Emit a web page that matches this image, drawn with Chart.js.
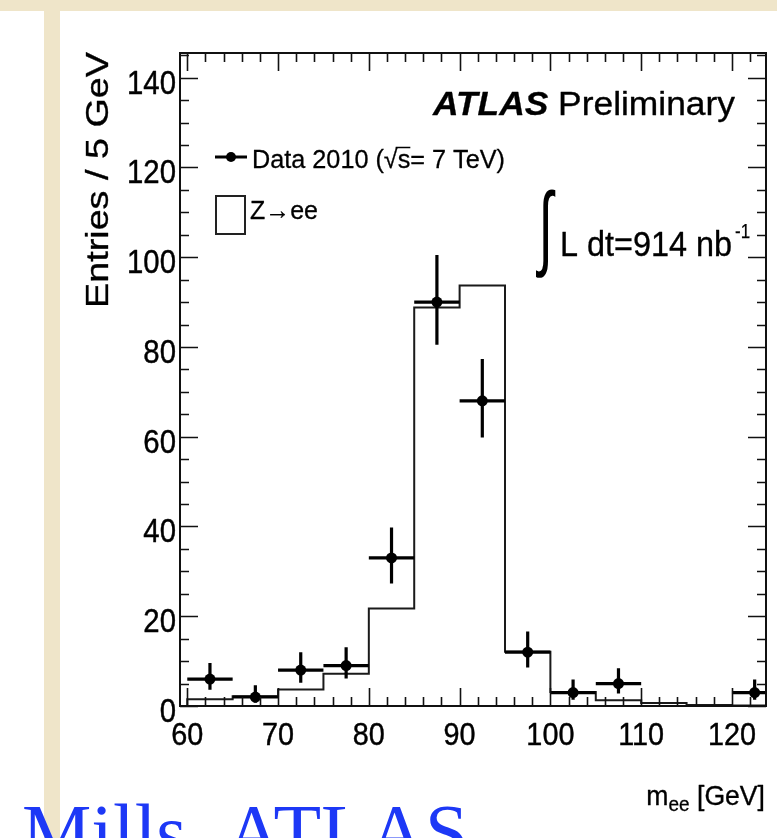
<!DOCTYPE html>
<html>
<head>
<meta charset="utf-8">
<script src="https://cdn.jsdelivr.net/npm/chart.js@4.4.1/dist/chart.umd.min.js"></script>
<style>
  html, body { margin: 0; padding: 0; width: 777px; height: 838px; overflow: hidden; background: #efe5c9; }
  #paperLeft { position: absolute; left: 0; top: 11px; width: 44px; height: 827px; background: #ffffff; }
  #paperMain { position: absolute; left: 60px; top: 11px; width: 717px; height: 827px; background: #ffffff; }
  canvas { position: absolute; left: 0; top: 0; }
</style>
</head>
<body>
<div id="paperLeft"></div>
<div id="paperMain"></div>
<canvas id="mee" width="777" height="838"></canvas>
<script>
// Di-electron invariant mass, 5 GeV bins
const binEdges   = [60, 65, 70, 75, 80, 85, 90, 95, 100, 105, 110, 115, 120, 125];
const mcZee      = [1.5, 2.2, 3.7, 7.2, 21.7, 88.8, 93.7, 12.1, 3.1, 1.3, 0.65, 0.2, 0.1];
const binCenters = [62.5, 67.5, 72.5, 77.5, 82.5, 87.5, 92.5, 97.5, 102.5, 107.5, 112.5, 117.5, 122.5];
const dataCounts = [6, 2, 8, 9, 33, 90, 68, 12, 3, 5, 0, 0, 3];
const dataLow    = [3.6, 0.7, 5.2, 6.1, 27.3, 80.5, 59.8, 8.6, 1.4, 2.8, 0, 0, 1.4];
const dataHigh   = [9.6, 4.6, 12.0, 13.1, 39.8, 100.5, 77.3, 16.6, 5.9, 8.4, 0, 0, 5.9];
const xTickValues = [60, 70, 80, 90, 100, 110, 120];
const yTickValues = [0, 20, 40, 60, 80, 100, 120, 140];

const SANS = '"Liberation Sans", Arial, Helvetica, sans-serif';
const SERIF = '"Liberation Serif", "Times New Roman", serif';

// MC histogram outline as a step line over the bin edges
const mcPoints = [{ x: binEdges[0], y: 0 }];
mcZee.forEach((v, i) => mcPoints.push({ x: binEdges[i], y: v }));
mcPoints.push({ x: binEdges[binEdges.length - 1], y: mcZee[mcZee.length - 1] });

// Data error bars: bin-width horizontal bars and Poisson vertical bars, separated by gaps
const hBars = [], vBars = [], markers = [];
dataCounts.forEach((n, i) => {
  if (n <= 0) return;
  hBars.push({ x: binEdges[i], y: n }, { x: binEdges[i + 1], y: n }, { x: binEdges[i + 1], y: null });
  vBars.push({ x: binCenters[i], y: dataLow[i] }, { x: binCenters[i], y: dataHigh[i] }, { x: binCenters[i], y: null });
  markers.push({ x: binCenters[i], y: n });
});

// text drawn with a horizontal squeeze factor and a faint outline for weight
function drawScaled(ctx, text, font, x, y, sx, align, weight) {
  ctx.save();
  ctx.font = font;
  ctx.textBaseline = 'alphabetic';
  ctx.textAlign = 'left';
  const w = ctx.measureText(text).width * sx;
  let x0 = x;
  if (align === 'right') x0 = x - w;
  else if (align === 'center') x0 = x - w / 2;
  ctx.translate(x0, y);
  ctx.scale(sx, 1);
  ctx.fillText(text, 0, 0);
  if (weight) {
    ctx.strokeStyle = ctx.fillStyle;
    ctx.lineWidth = weight;
    ctx.lineJoin = 'round';
    ctx.strokeText(text, 0, 0);
  }
  ctx.restore();
  return w;
}
function widthOf(ctx, text, font) { ctx.save(); ctx.font = font; const w = ctx.measureText(text).width; ctx.restore(); return w; }

// ROOT-style frame: box with inward ticks on all four sides
const framePlugin = {
  id: 'frame',
  afterDatasetsDraw(chart) {
    const { ctx, chartArea: a, scales: { x, y } } = chart;
    ctx.save();
    ctx.strokeStyle = '#111';
    ctx.lineWidth = 2;
    ctx.strokeRect(a.left, a.top, a.right - a.left, a.bottom - a.top);
    ctx.beginPath();
    for (let v = 60; v <= x.max; v += 2) {
      const px = Math.round(x.getPixelForValue(v)) + 0.5;
      const len = xTickValues.includes(v) ? 18 : 9;
      ctx.moveTo(px, a.bottom); ctx.lineTo(px, a.bottom - len);
      ctx.moveTo(px, a.top); ctx.lineTo(px, a.top + len);
    }
    for (let v = 0; v <= y.max; v += 5) {
      const py = Math.round(y.getPixelForValue(v)) + 0.5;
      const len = yTickValues.includes(v) ? 18 : 9;
      ctx.moveTo(a.left, py); ctx.lineTo(a.left + len, py);
      ctx.moveTo(a.right, py); ctx.lineTo(a.right - len, py);
    }
    ctx.lineWidth = 1.6;
    ctx.stroke();
    ctx.restore();
  },
  afterDraw(chart) {
    const { ctx, scales: { x, y } } = chart;
    ctx.save();
    ctx.fillStyle = '#000';
    // tick labels
    x.ticks.forEach(t => drawScaled(ctx, String(t.value), '32px ' + SANS, x.getPixelForValue(t.value), 745, 0.9, 'center', 0.45));
    y.ticks.forEach(t => drawScaled(ctx, String(t.value), '33px ' + SANS, 176, y.getPixelForValue(t.value) + 16, 0.89, 'right', 0.45));

    // y title, rotated
    ctx.save();
    ctx.translate(108, 308);
    ctx.rotate(-Math.PI / 2);
    const yt = 'Entries / 5 GeV';
    const ytw = widthOf(ctx, yt, '32px ' + SANS);
    drawScaled(ctx, yt, '32px ' + SANS, 0, 0, 256 / ytw, 'left', 0.35);
    ctx.restore();

    // x title: m_ee [GeV]
    const fBig = '28px ' + SANS, fSub = '20px ' + SANS;
    const sxT = 0.95;
    const wM = widthOf(ctx, 'm', fBig) * sxT, wSub = widthOf(ctx, 'ee', fSub) * sxT, wRest = widthOf(ctx, ' [GeV]', fBig) * sxT;
    let xl = 765 - (wM + wSub + wRest);
    drawScaled(ctx, 'm', fBig, xl, 805, sxT, 'left', 0.35); xl += wM;
    drawScaled(ctx, 'ee', fSub, xl, 811, sxT, 'left', 0.3); xl += wSub;
    drawScaled(ctx, ' [GeV]', fBig, xl, 805, sxT, 'left', 0.35);

    // ATLAS Preliminary
    const fA = 'italic bold 33px ' + SANS, fP = '33px ' + SANS;
    const wA = widthOf(ctx, 'ATLAS', fA), wP = widthOf(ctx, ' Preliminary', fP);
    const sA = 302 / (wA + wP);
    drawScaled(ctx, 'ATLAS', fA, 735 - (wA + wP) * sA, 115, sA, 'left', 0.3);
    drawScaled(ctx, ' Preliminary', fP, 735, 115, sA, 'right', 0.35);

    // legend: data entry
    ctx.strokeStyle = '#000';
    ctx.lineWidth = 3;
    ctx.beginPath(); ctx.moveTo(215, 157); ctx.lineTo(247, 157); ctx.stroke();
    ctx.beginPath(); ctx.arc(231, 157, 5, 0, Math.PI * 2); ctx.fill();
    const fL = '26px ' + SANS;
    const dTxt = 'Data 2010 (√s= 7 TeV)';
    const sL = 253 / widthOf(ctx, dTxt, fL);
    drawScaled(ctx, dTxt, fL, 252, 168, sL, 'left', 0.3);
    const pre = widthOf(ctx, 'Data 2010 (√', fL) * sL, sW = widthOf(ctx, 's', fL) * sL;
    ctx.lineWidth = 1.5;
    ctx.beginPath(); ctx.moveTo(252 + pre - 2, 147.5); ctx.lineTo(252 + pre + sW, 147.5); ctx.stroke();

    // legend: MC entry
    ctx.strokeStyle = '#222';
    ctx.lineWidth = 2;
    ctx.strokeRect(216, 196, 29, 38);
    const zTxt = 'Z→ee';
    drawScaled(ctx, zTxt, '26px ' + SANS, 250, 219, 68 / widthOf(ctx, zTxt, '26px ' + SANS), 'left', 0.3);

    // integrated luminosity
    ctx.save();
    ctx.font = '60px ' + SANS;
    const im = ctx.measureText('∫');
    const ih = im.actualBoundingBoxAscent + im.actualBoundingBoxDescent;
    const iw = im.actualBoundingBoxLeft + im.actualBoundingBoxRight;
    ctx.translate(536, 188);
    ctx.scale(20 / iw, 90 / ih);
    ctx.textBaseline = 'alphabetic';
    ctx.fillText('∫', im.actualBoundingBoxLeft, im.actualBoundingBoxAscent);
    ctx.restore();
    const lTxt = 'L dt=914 nb';
    const fLum = '35px ' + SANS;
    drawScaled(ctx, lTxt, fLum, 560, 256, 172 / widthOf(ctx, lTxt, fLum), 'left', 0.35);
    drawScaled(ctx, '-1', '20px ' + SANS, 735, 238, 0.85, 'left', 0.25);

    // speaker credit
    ctx.fillStyle = '#1d38f6';
    drawScaled(ctx, 'Mills, ATLAS', '78px ' + SERIF, 22, 858, 1, 'left');
    ctx.restore();
  }
};

new Chart(document.getElementById('mee'), {
  type: 'scatter',
  data: {
    datasets: [
      { label: 'Data markers', data: markers, showLine: false, pointRadius: 5.5, pointBackgroundColor: '#000', pointBorderWidth: 0, order: 0 },
      { label: 'Data x-err', data: hBars, showLine: true, spanGaps: false, pointRadius: 0, borderColor: '#000', borderWidth: 3.2, order: 1 },
      { label: 'Data y-err', data: vBars, showLine: true, spanGaps: false, pointRadius: 0, borderColor: '#000', borderWidth: 3.2, order: 1 },
      { label: 'Z→ee', data: mcPoints, showLine: true, stepped: 'before', pointRadius: 0, borderColor: '#1a1a1a', borderWidth: 2, fill: false, order: 2 }
    ]
  },
  options: {
    responsive: false,
    animation: false,
    devicePixelRatio: 1,
    layout: { padding: { left: 180, top: 53, right: 11, bottom: 132 } },
    plugins: { legend: { display: false }, tooltip: { enabled: false } },
    scales: {
      x: {
        type: 'linear', min: 59.2, max: 123.75,
        afterBuildTicks: s => { s.ticks = xTickValues.map(v => ({ value: v })); },
        ticks: { display: false }, grid: { display: false, drawTicks: false }, border: { display: false }
      },
      y: {
        type: 'linear', min: 0, max: 145.5,
        afterBuildTicks: s => { s.ticks = yTickValues.map(v => ({ value: v })); },
        ticks: { display: false }, grid: { display: false, drawTicks: false }, border: { display: false }
      }
    }
  },
  plugins: [framePlugin]
});
</script>
</body>
</html>
